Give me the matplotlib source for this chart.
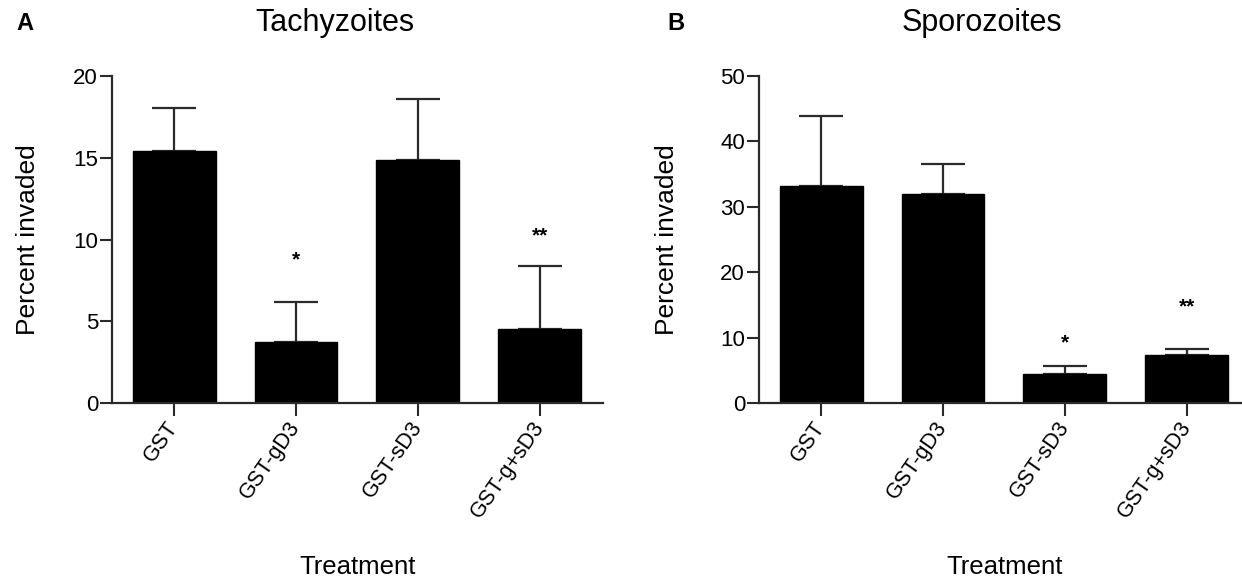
import numpy as np
import matplotlib.pyplot as plt

plt.rcParams['font.family'] = ['Liberation Sans', 'DejaVu Sans']

# ----------------------------
# Data
# ----------------------------
treatments = ["GST", "GST-gD3", "GST-sD3", "GST-g+sD3"]

tachy_mean = [15.4, 3.75, 14.85, 4.5]
tachy_err = [2.65, 2.45, 3.75, 3.9]
tachy_stars = ["", "*", "", "**"]
tachy_star_y = [0, 8.75, 0, 10.2]

sporo_mean = [33.2, 32.0, 4.5, 7.3]
sporo_err = [10.7, 4.5, 1.1, 0.9]
sporo_stars = ["", "", "*", "**"]
sporo_star_y = [0, 0, 9.2, 14.7]

panels = [
    ("A", "Tachyzoites", tachy_mean, tachy_err, tachy_stars, tachy_star_y, 20, [0, 5, 10, 15, 20]),
    ("B", "Sporozoites", sporo_mean, sporo_err, sporo_stars, sporo_star_y, 50, [0, 10, 20, 30, 40, 50]),
]

W, H = 1242, 581
fig = plt.figure(figsize=(W / 100, H / 100), dpi=100)

# pixel layout of each panel: axis left x, title centre x, letter x, ylabel x
layout = [(112, 335, 16, 28), (759, 982, 667, 667)]
ax_w = 491
ax_bottom, ax_top = 403, 76
axis_col = "#2a2a2a"

for (x0, tx, lx, ylx), (letter, title, mean, err, stars, star_y, ymax, yticks) in zip(layout, panels):
    ax = fig.add_axes([x0 / W, 1 - ax_bottom / H, ax_w / W, (ax_bottom - ax_top) / H])
    x = np.arange(len(treatments))
    ax.bar(x, mean, width=0.68, color="black", edgecolor="black", zorder=2)
    ax.errorbar(x, mean, yerr=[np.zeros(len(err)), err], fmt="none", ecolor=axis_col,
                elinewidth=1.6, capsize=16, capthick=1.6, zorder=1)
    for xi, s, sy in zip(x, stars, star_y):
        if s:
            ax.text(xi, sy, s, ha="center", va="center", fontsize=15, fontweight="bold")

    ax.set_xlim(-0.51, 3.52)
    ax.set_ylim(0, ymax)
    ax.set_yticks(yticks)
    ax.set_xticks(x)
    ax.set_xticklabels(treatments, rotation=55, ha="right", va="center",
                       rotation_mode="anchor", fontsize=15.5)
    ax.tick_params(axis="y", labelsize=16, length=9, width=1.5, pad=1,
                   direction="out", color=axis_col)
    ax.tick_params(axis="x", length=9, width=1.5, pad=6, direction="out", color=axis_col)
    for side in ["top", "right"]:
        ax.spines[side].set_visible(False)
    for side in ["left", "bottom"]:
        ax.spines[side].set_linewidth(1.6)
        ax.spines[side].set_color(axis_col)

    ax.set_xlabel("Treatment", fontsize=18.5)
    ax.xaxis.set_label_coords(0.5, -(567 - ax_bottom) / (ax_bottom - ax_top))
    ax.xaxis.label.set_va("center")

    fig.text(ylx / W, 1 - 240 / H, "Percent invaded", rotation=90, fontsize=19,
             ha="center", va="center")
    fig.text(tx / W, 1 - 23 / H, title, fontsize=22, ha="center", va="center")
    fig.text(lx / W, 1 - 24 / H, letter, fontsize=17, fontweight="bold",
             ha="left", va="center")

plt.savefig("out.png", dpi=100)
